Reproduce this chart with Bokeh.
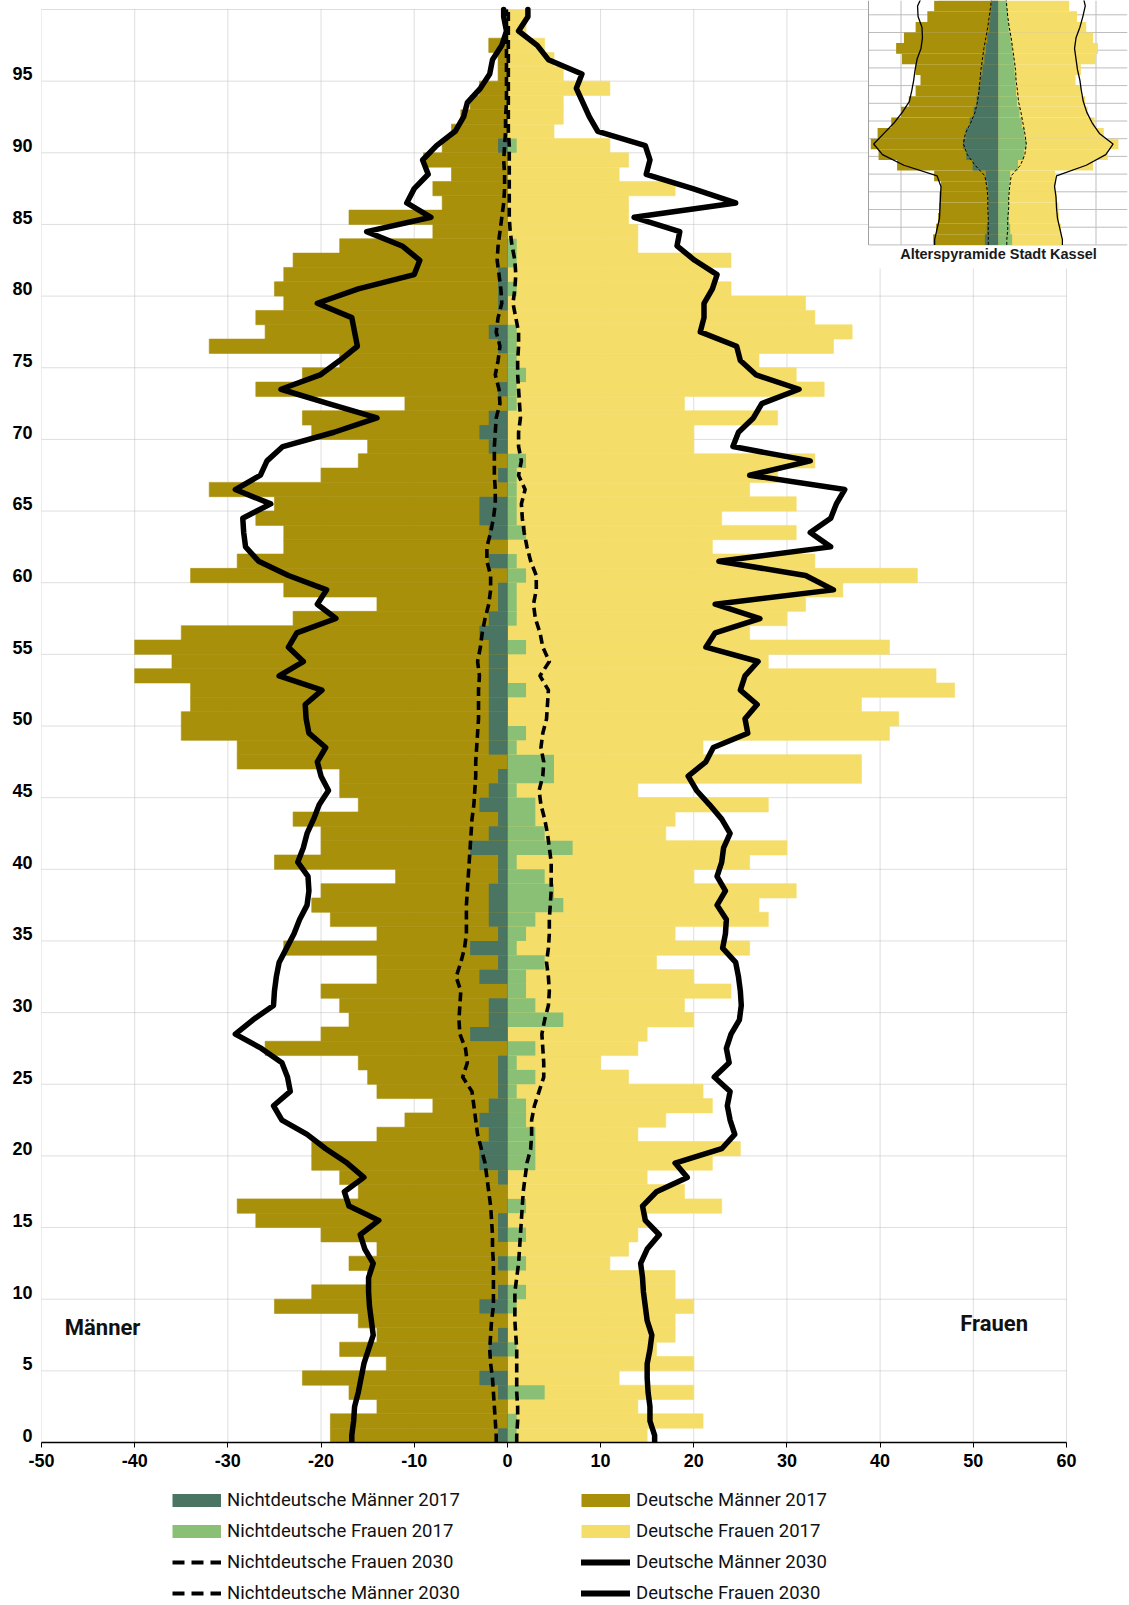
from bokeh.plotting import figure
from bokeh.layouts import column
from bokeh.models import Range1d, FixedTicker, Legend, LegendItem, Label
from bokeh.embed import file_html
from bokeh.resources import INLINE

# ---------------- data (persons per year of age) ----------------
ages = list(range(100))

deutsche_maenner_2017 = [
    19, 19, 14, 17, 22, 13, 18, 14, 16, 25,
    21, 15, 17, 14, 20, 27, 29, 16, 18, 21,
    21, 14, 11, 8, 14, 15, 16, 26, 20, 17,
    18, 20, 14, 14, 24, 14, 19, 21, 20, 12,
    25, 20, 20, 23, 16, 18, 18, 29, 29, 35,
    35, 34, 34, 40, 36, 40, 35, 23, 14, 24,
    34, 29, 24, 24, 27, 25, 32, 20, 16, 15,
    21, 22, 11, 27, 22, 18, 32, 26, 27, 24,
    25, 24, 23, 18, 8, 17, 7, 8, 6, 9,
    7, 6, 5, 4, 3, 1, 1, 2, 0, 0]

nichtdeutsche_maenner_2017 = [
    1, 0, 0, 1, 3, 0, 2, 1, 0, 3,
    1, 0, 1, 0, 1, 1, 0, 0, 1, 3,
    3, 2, 3, 2, 1, 1, 1, 0, 4, 2,
    2, 0, 3, 1, 4, 1, 2, 2, 2, 1,
    1, 4, 2, 1, 3, 2, 1, 0, 2, 2,
    2, 2, 2, 2, 2, 2, 3, 2, 1, 1,
    0, 2, 0, 2, 3, 3, 0, 1, 0, 2,
    3, 2, 0, 1, 0, 0, 1, 2, 0, 1,
    1, 1, 0, 0, 0, 0, 0, 0, 0, 0,
    1, 0, 0, 0, 0, 0, 0, 0, 0, 0]

nichtdeutsche_frauen_2017 = [
    1, 1, 0, 4, 0, 0, 1, 0, 0, 1,
    2, 0, 2, 0, 2, 0, 2, 0, 0, 3,
    3, 3, 2, 2, 1, 3, 1, 3, 0, 6,
    3, 2, 2, 4, 1, 2, 3, 6, 5, 4,
    1, 7, 4, 3, 3, 1, 5, 5, 1, 2,
    0, 0, 2, 0, 0, 2, 0, 1, 1, 1,
    2, 1, 0, 2, 1, 1, 1, 1, 2, 0,
    0, 0, 1, 1, 2, 1, 1, 1, 0, 0,
    1, 0, 1, 1, 0, 0, 0, 0, 0, 0,
    1, 0, 0, 0, 0, 0, 0, 0, 0, 0]

deutsche_frauen_2017 = [
    15, 21, 14, 20, 12, 20, 16, 18, 18, 20,
    18, 18, 11, 13, 14, 15, 23, 19, 15, 22,
    25, 14, 17, 22, 21, 13, 10, 14, 15, 20,
    19, 24, 20, 16, 26, 18, 28, 27, 31, 20,
    26, 30, 17, 18, 28, 14, 38, 38, 21, 41,
    42, 38, 48, 46, 28, 41, 26, 30, 32, 36,
    44, 33, 22, 31, 23, 31, 26, 29, 33, 20,
    20, 29, 19, 34, 31, 27, 35, 37, 33, 32,
    24, 22, 24, 14, 14, 13, 13, 18, 12, 13,
    11, 5, 6, 6, 11, 6, 5, 4, 2, 2]

deutsche_maenner_2030 = [
    16.7, 16.5, 16.4, 16.0, 15.7, 15.4, 14.9, 14.4, 14.6, 14.8,
    14.9, 14.9, 14.4, 15.3, 15.8, 13.8, 17.0, 17.5, 15.4, 17.2,
    19.5, 21.5, 24.2, 25.1, 23.3, 23.6, 24.2, 26.4, 29.2, 27.3,
    25.1, 25.0, 24.8, 24.5, 23.7, 22.9, 22.3, 21.5, 21.3, 21.4,
    22.5, 21.9, 21.5, 20.8, 20.2, 19.2, 20.0, 20.4, 19.5, 21.3,
    21.6, 21.7, 19.9, 24.5, 21.9, 23.5, 22.6, 18.4, 20.4, 19.4,
    23.5, 26.7, 28.1, 28.3, 28.4, 25.4, 29.2, 26.5, 25.8, 24.1,
    18.6, 14.0, 19.2, 24.3, 20.1, 18.0, 16.1, 16.4, 16.7, 20.4,
    16.0, 10.0, 9.4, 11.3, 15.1, 8.2, 10.8, 10.0, 8.5, 9.1,
    7.6, 5.6, 4.7, 4.3, 2.9, 1.9, 1.6, 0.6, 0.1, 0.4]

deutsche_frauen_2030 = [
    15.8, 15.3, 15.3, 15.1, 15.0, 15.0, 15.3, 15.5, 15.0, 14.8,
    14.6, 14.5, 14.3, 15.0, 16.3, 14.8, 14.5, 16.0, 19.3, 18.0,
    23.0, 24.4, 23.9, 23.6, 23.9, 22.2, 23.8, 23.5, 24.0, 24.9,
    25.1, 25.0, 24.8, 24.5, 23.1, 23.4, 23.5, 22.5, 23.4, 22.5,
    23.0, 23.2, 23.9, 23.0, 21.7, 20.3, 19.4, 21.3, 22.1, 25.8,
    25.5, 26.8, 25.0, 25.5, 26.9, 21.3, 22.3, 27.1, 22.3, 35.0,
    32.0, 22.7, 34.7, 32.5, 34.7, 35.3, 36.2, 26.0, 32.5, 24.2,
    24.8, 26.4, 27.3, 31.3, 26.7, 25.0, 24.6, 20.7, 21.1, 21.1,
    22.0, 22.5, 20.1, 18.2, 18.5, 13.6, 24.5, 19.9, 14.9, 15.3,
    14.8, 9.7, 8.8, 8.1, 7.4, 8.0, 4.4, 3.2, 1.2, 2.2]

nichtdeutsche_maenner_2030 = [
    1.2, 1.3, 1.4, 1.5, 1.6, 1.8, 1.9, 1.8, 1.7, 1.5,
    1.5, 1.5, 1.5, 1.6, 1.6, 1.7, 1.8, 2.0, 2.2, 2.4,
    2.8, 3.2, 3.4, 3.6, 3.8, 4.8, 4.3, 4.5, 5.1, 5.2,
    5.1, 5.0, 5.5, 5.0, 4.6, 4.4, 4.4, 4.4, 4.3, 4.2,
    4.1, 4.0, 3.9, 3.8, 3.6, 3.5, 3.4, 3.4, 3.3, 3.2,
    3.1, 3.1, 3.1, 3.0, 3.2, 2.9, 2.7, 2.4, 2.0, 1.8,
    1.8, 2.2, 2.2, 1.8, 1.5, 1.3, 1.3, 1.4, 1.4, 1.4,
    1.3, 1.2, 0.8, 0.9, 1.3, 1.0, 0.8, 1.2, 1.0, 0.6,
    0.7, 0.9, 1.1, 1.0, 0.8, 0.6, 0.4, 0.3, 0.3, 0.4,
    0.3, 0.2, 0.2, 0.1, 0.1, 0.1, 0.1, 0.1, 0.1, 0.1]

nichtdeutsche_frauen_2030 = [
    1.0, 1.1, 1.1, 1.0, 1.0, 1.0, 1.0, 0.9, 0.8, 0.8,
    0.8, 1.0, 1.2, 1.3, 1.4, 1.5, 1.6, 1.7, 1.9, 2.1,
    2.5, 2.6, 2.6, 2.9, 3.4, 3.9, 3.9, 3.8, 3.7, 4.0,
    4.4, 4.5, 4.4, 4.2, 4.4, 4.5, 4.5, 4.6, 4.7, 4.7,
    4.7, 4.5, 4.3, 4.0, 3.6, 3.4, 3.8, 3.9, 3.6, 3.8,
    4.2, 4.3, 4.4, 3.5, 4.5, 3.8, 3.5, 3.0, 2.8, 3.1,
    3.1, 2.5, 2.1, 1.8, 1.6, 1.5, 1.9, 1.2, 1.5, 1.2,
    1.2, 1.4, 1.3, 1.2, 1.1, 1.1, 1.2, 1.2, 0.9, 0.6,
    0.8, 0.9, 0.8, 0.5, 0.3, 0.2, 0.2, 0.2, 0.2, 0.2,
    0.2, 0.1, 0.1, 0.1, 0.1, 0.1, 0.1, 0.1, 0.1, 0.1]

# inset: Alterspyramide Stadt Kassel (3-year age groups, persons)
kassel_ages = list(range(0, 70, 3))
kassel_deutsche_maenner_2017 = [670, 640, 620, 610, 605, 590, 660, 1040, 1230, 1310, 1240, 1100,
                                1000, 920, 850, 800, 850, 990, 1050, 970, 850, 730, 660, 620]
kassel_deutsche_frauen_2017 = [645, 640, 620, 615, 595, 580, 580, 970, 1120, 1230, 1080, 985,
                               915, 890, 845, 790, 845, 1000, 1020, 970, 900, 805, 725, 710]
kassel_nichtdeutsche_maenner_2017 = [140, 120, 105, 105, 105, 110, 130, 265, 330, 365, 335, 295,
                                     255, 225, 205, 185, 165, 145, 130, 115, 95, 85, 75, 70]
kassel_nichtdeutsche_frauen_2017 = [140, 120, 105, 105, 105, 110, 120, 200, 260, 285, 265, 240,
                                    215, 190, 180, 175, 165, 155, 140, 125, 105, 95, 85, 75]
kassel_deutsche_maenner_2030 = [655, 630, 605, 600, 595, 590, 630, 970, 1190, 1280, 1175, 1070,
                                985, 915, 890, 870, 855, 835, 795, 780, 785, 825, 830, 780]
kassel_deutsche_frauen_2030 = [655, 630, 605, 595, 590, 575, 595, 900, 1100, 1175, 1035, 960,
                               905, 870, 850, 835, 810, 795, 780, 795, 835, 865, 890, 865]
kassel_nichtdeutsche_maenner_2030 = [105, 105, 105, 110, 110, 120, 140, 240, 320, 360, 340, 285,
                                     240, 215, 200, 190, 180, 165, 150, 130, 110, 95, 80, 70]
kassel_nichtdeutsche_frauen_2030 = [85, 95, 95, 105, 105, 115, 130, 225, 270, 285, 270, 250,
                                    230, 205, 195, 180, 175, 160, 145, 130, 110, 95, 85, 75]
kassel_grid_ages = list(range(0, 75, 5))
kassel_grid_values = [-1000, 1000]

x_ticks = list(range(-50, 61, 10))
x_tick_labels = [str(t) for t in x_ticks]
y_tick_ages = list(range(0, 100, 5))
y_tick_labels = [str(a) for a in y_tick_ages]
y_grid = list(range(0, 101, 5))

labels = {
    "nm17": "Nichtdeutsche Männer 2017",
    "nf17": "Nichtdeutsche Frauen 2017",
    "nf30": "Nichtdeutsche Frauen 2030",
    "nm30": "Nichtdeutsche Männer 2030",
    "dm17": "Deutsche Männer 2017",
    "df17": "Deutsche Frauen 2017",
    "dm30": "Deutsche Männer 2030",
    "df30": "Deutsche Frauen 2030",
}

# ---------------- style / geometry (page pixels, page starts at 0) ----------------
C_DM = "#A9900B"
C_DF = "#F5DD6A"
C_NM = "#4B7563"
C_NF = "#8AC075"
GRID = "#bdbdbd"

B_LEFT, B_RIGHT = 41, 2
FRAME_W = 1086
PX_PER_UNIT = 9.318          # x: px per person
PX_PER_YEAR = 14.33          # y: px per year of age
AGE100_PAGE_Y = 9            # page y of the top grid line (age 100)
FRAME_H = 1442               # frame from page y 0 down to age 0
X_START = -50
X_END = X_START + FRAME_W / PX_PER_UNIT
Y_END = 100 + AGE100_PAGE_Y / PX_PER_YEAR
Y_START = Y_END - FRAME_H / PX_PER_YEAR

frame_l = B_LEFT
frame_r = frame_l + FRAME_W
frame_t = 0
frame_b = FRAME_H
INSET_ZERO_X = 998.0
INSET_PX_PER_PERSON = 97.5 / 1000.0
INSET_AGE0_Y = 244.4
INSET_PX_PER_YEAR = 3.54
INSET_BOX_LEFT = 868.0
INSET_BOX_BOTTOM = 268.0
INSET_TITLE_Y = 253.5

ix_start = (frame_l - INSET_ZERO_X) / INSET_PX_PER_PERSON
ix_end = (frame_r - INSET_ZERO_X) / INSET_PX_PER_PERSON
iy_start = -(frame_b - INSET_AGE0_Y) / INSET_PX_PER_YEAR
iy_end = (INSET_AGE0_Y - frame_t) / INSET_PX_PER_YEAR
box_left = (INSET_BOX_LEFT - INSET_ZERO_X) / INSET_PX_PER_PERSON
box_bottom = -(INSET_BOX_BOTTOM - INSET_AGE0_Y) / INSET_PX_PER_YEAR
title_age = -(INSET_TITLE_Y - INSET_AGE0_Y) / INSET_PX_PER_YEAR

p = figure(frame_width=FRAME_W, frame_height=FRAME_H,
           x_range=Range1d(X_START, X_END), y_range=Range1d(Y_START, Y_END),
           output_backend="svg", toolbar_location=None,
           min_border_left=B_LEFT, min_border_top=0, min_border_right=B_RIGHT,
           min_border_bottom=0)
p.extra_x_ranges = {"ix": Range1d(ix_start, ix_end)}
p.extra_y_ranges = {"iy": Range1d(iy_start, iy_end)}
p.outline_line_color = None
p.background_fill_color = "white"
p.border_fill_color = "white"
p.grid.visible = False

# grid lines limited to the chart area
p.segment(x0=x_ticks, x1=x_ticks, y0=0, y1=100, line_color=GRID, line_width=1, line_dash="1 1")
p.segment(x0=-50, x1=60, y0=y_grid, y1=y_grid, line_color=GRID, line_width=1, line_dash="1 1")

# axes
p.xaxis.ticker = FixedTicker(ticks=x_ticks)
p.xaxis.major_label_overrides = dict(zip(x_ticks, x_tick_labels))
p.xaxis.bounds = (-50, 60)
p.xaxis.axis_line_color = "black"
p.xaxis.axis_line_width = 1.3
p.xaxis.major_tick_line_color = "black"
p.xaxis.major_tick_out = 5
p.xaxis.major_tick_in = 0
p.xaxis.minor_tick_line_color = None
p.xaxis.major_label_standoff = 6

p.yaxis.ticker = FixedTicker(ticks=[a + 0.5 for a in y_tick_ages])
p.yaxis.major_label_overrides = {a + 0.5: lbl for a, lbl in zip(y_tick_ages, y_tick_labels)}
p.yaxis.axis_line_color = None
p.yaxis.major_tick_line_color = None
p.yaxis.minor_tick_line_color = None
p.yaxis.major_tick_out = 0
p.yaxis.major_tick_in = 0
p.yaxis.major_label_standoff = 9
for ax in (p.xaxis, p.yaxis):
    ax.major_label_text_font = "Liberation Sans"
    ax.major_label_text_font_style = "bold"
    ax.major_label_text_font_size = "18px"
    ax.major_label_text_color = "black"

# ---------------- main pyramid ----------------
y_mid = [a + 0.5 for a in ages]
p.hbar(y=y_mid, height=1, left=[-v for v in deutsche_maenner_2017], right=0,
       fill_color=C_DM, line_color=C_DM, line_width=0.6)
p.hbar(y=y_mid, height=1, left=0, right=deutsche_frauen_2017,
       fill_color=C_DF, line_color=C_DF, line_width=0.6)
p.hbar(y=y_mid, height=1, left=[-v for v in nichtdeutsche_maenner_2017], right=0,
       fill_color=C_NM, line_color=None)
p.hbar(y=y_mid, height=1, left=0, right=nichtdeutsche_frauen_2017,
       fill_color=C_NF, line_color=None)

p.segment(x0=0, x1=0, y0=0, y1=100, line_color="#3c3c3c", line_width=1, line_dash="1 1")

line_y = [0] + y_mid + [100]


def ext(vals, sign):
    v = [sign * x for x in vals]
    return [v[0]] + v + [v[-1]]


p.line(ext(nichtdeutsche_maenner_2030, -1), line_y, line_color="black", line_width=3.6,
       line_dash="9 5", line_join="round")
p.line(ext(nichtdeutsche_frauen_2030, 1), line_y, line_color="black", line_width=3.6,
       line_dash="9 5", line_join="round")
p.line(ext(deutsche_maenner_2030, -1), line_y, line_color="black", line_width=5.5,
       line_join="round", line_cap="round")
p.line(ext(deutsche_frauen_2030, 1), line_y, line_color="black", line_width=5.5,
       line_join="round", line_cap="round")

p.add_layout(Label(x=-47.5, y=8.0, text="Männer", text_font="Roboto", text_font_style="bold",
                   text_font_size="22px", text_baseline="middle", text_color="#111111"))
p.add_layout(Label(x=48.6, y=8.3, text="Frauen", text_font="Roboto", text_font_style="bold",
                   text_font_size="22px", text_baseline="middle", text_color="#111111"))

# ---------------- inset ----------------
ik = dict(x_range_name="ix", y_range_name="iy")
p.quad(left=box_left, right=ix_end, bottom=box_bottom, top=iy_end,
       fill_color="white", line_color=None, **ik)
p.segment(x0=box_left, x1=ix_end, y0=kassel_grid_ages, y1=kassel_grid_ages,
          line_color=GRID, line_width=1, **ik)
p.segment(x0=kassel_grid_values, x1=kassel_grid_values, y0=0, y1=iy_end,
          line_color=GRID, line_width=1, **ik)
p.segment(x0=box_left, x1=box_left, y0=0, y1=iy_end, line_color="#a0a0a0", line_width=1, **ik)

k_mid = [a + 1.5 for a in kassel_ages]
p.hbar(y=k_mid, height=3, left=[-v for v in kassel_deutsche_maenner_2017], right=0,
       fill_color=C_DM, line_color=None, **ik)
p.hbar(y=k_mid, height=3, left=0, right=kassel_deutsche_frauen_2017,
       fill_color=C_DF, line_color=None, **ik)
p.hbar(y=k_mid, height=3, left=[-v for v in kassel_nichtdeutsche_maenner_2017], right=0,
       fill_color=C_NM, line_color=None, **ik)
p.hbar(y=k_mid, height=3, left=0, right=kassel_nichtdeutsche_frauen_2017,
       fill_color=C_NF, line_color=None, **ik)
k_line_y = [0] + k_mid
p.line([-kassel_deutsche_maenner_2030[0]] + [-v for v in kassel_deutsche_maenner_2030], k_line_y,
       line_color="black", line_width=1.3, **ik)
p.line([kassel_deutsche_frauen_2030[0]] + kassel_deutsche_frauen_2030, k_line_y,
       line_color="black", line_width=1.3, **ik)
p.line([-kassel_nichtdeutsche_maenner_2030[0]] + [-v for v in kassel_nichtdeutsche_maenner_2030],
       k_line_y, line_color="black", line_width=1, line_dash="3 2", **ik)
p.line([kassel_nichtdeutsche_frauen_2030[0]] + kassel_nichtdeutsche_frauen_2030, k_line_y,
       line_color="black", line_width=1, line_dash="3 2", **ik)
p.add_layout(Label(x=0, y=title_age, text="Alterspyramide Stadt Kassel", text_font="Liberation Sans",
                   text_font_style="bold", text_font_size="14.5px", text_align="center",
                   text_baseline="middle", text_color="#1a1a1a", **ik))

# ---------------- legend (separate strip below the chart; frames are aligned) ----------------
LEG_FIG_H = 134
pl = figure(width=B_LEFT + FRAME_W + B_RIGHT, height=LEG_FIG_H, x_range=Range1d(0, 1),
            y_range=Range1d(0, 1), x_axis_location=None, y_axis_location=None,
            min_border=0, output_backend="svg", toolbar_location=None)
pl.grid.visible = False
pl.outline_line_color = None

NAN2 = [float("nan"), float("nan")]
r_nm17 = pl.line(NAN2, NAN2, line_color=C_NM, line_width=13, line_cap="butt")
r_nf17 = pl.line(NAN2, NAN2, line_color=C_NF, line_width=13, line_cap="butt")
r_nf30 = pl.line(NAN2, NAN2, line_color="black", line_width=4, line_dash="12 7", line_cap="butt")
r_nm30 = pl.line(NAN2, NAN2, line_color="black", line_width=4, line_dash="12 7", line_cap="butt")
r_dm17 = pl.line(NAN2, NAN2, line_color=C_DM, line_width=13, line_cap="butt")
r_df17 = pl.line(NAN2, NAN2, line_color=C_DF, line_width=13, line_cap="butt")
r_dm30 = pl.line(NAN2, NAN2, line_color="black", line_width=6, line_cap="round")
r_df30 = pl.line(NAN2, NAN2, line_color="black", line_width=6, line_cap="round")

items = [LegendItem(label=labels[k], renderers=[r]) for k, r in [
    ("nm17", r_nm17), ("nf17", r_nf17), ("nf30", r_nf30), ("nm30", r_nm30),
    ("dm17", r_dm17), ("df17", r_df17), ("dm30", r_dm30), ("df30", r_df30)]]

LEG_PAD = 2
LEG_ROW_H, LEG_SPACING = 22, 9
leg_h = 4 * LEG_ROW_H + 3 * LEG_SPACING + 2 * LEG_PAD
leg_top = 29 - LEG_ROW_H / 2 - LEG_PAD      # first row centre below the strip top
leg_x = 174 - B_LEFT - LEG_PAD               # strip frame is aligned with the chart frame
leg_y = LEG_FIG_H - leg_top - leg_h

legend = Legend(items=items, orientation="vertical", nrows=4, location=(leg_x, leg_y),
                glyph_width=49, glyph_height=LEG_ROW_H, label_height=LEG_ROW_H, label_width=345,
                label_standoff=6, spacing=LEG_SPACING, padding=LEG_PAD, margin=0,
                border_line_color=None, background_fill_alpha=0,
                label_text_font="Roboto", label_text_font_size="18.5px",
                label_text_color="#111111")
pl.add_layout(legend, "center")

layout = column(p, pl, spacing=0)
open("out.html", "w").write(file_html(layout, INLINE))
